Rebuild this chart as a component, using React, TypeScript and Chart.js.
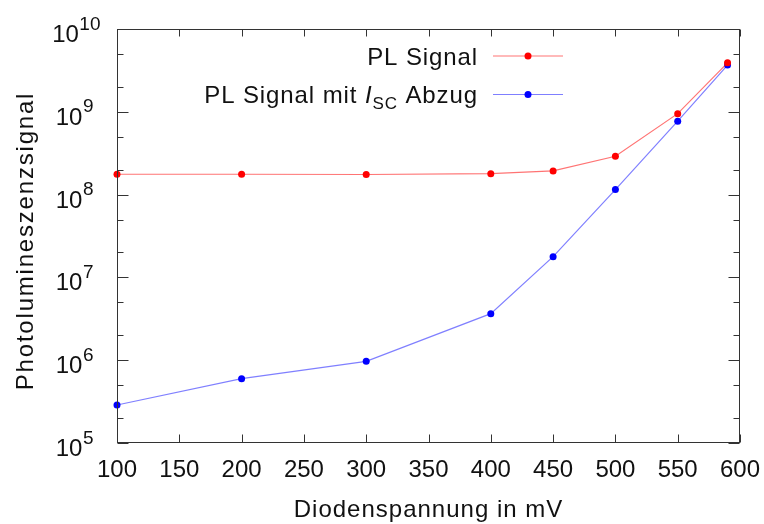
import React, { useEffect, useRef } from "react";
import { Chart, registerables } from "chart.js";

Chart.register(...registerables);

// Diode voltage in mV
const voltages = [100, 200, 300, 400, 450, 500, 550, 590];
// Photoluminescence signal (raw)
const plSignal = [1.76e8, 1.76e8, 1.75e8, 1.79e8, 1.93e8, 2.9e8, 9.5e8, 3.9e9];
// Photoluminescence signal with short-circuit current subtracted
const plSignalIsc = [2.88e5, 5.98e5, 9.7e5, 3.65e6, 1.78e7, 1.15e8, 7.7e8, 3.67e9];

const xTicks = [100, 150, 200, 250, 300, 350, 400, 450, 500, 550, 600];
const yExponents = [5, 6, 7, 8, 9, 10];
const minorMultipliers = [2, 5];

const xTitle = "Diodenspannung in mV";
const yTitle = "Photolumineszenzsignal";
const legendMain = "PL Signal";
const legendSubA = "PL Signal mit ";
const legendSubI = "I";
const legendSubIdx = "SC";
const legendSubB = " Abzug";

const FONT = "'Liberation Sans', Arial, sans-serif";
const TEXT = "#111";
const AXIS = "#333";

const RED_LINE = "rgba(255,0,0,0.55)";
const BLUE_LINE = "rgba(0,0,255,0.5)";

const decorations = {
  id: "decorations",
  afterDraw(chart: any) {
    const ctx: CanvasRenderingContext2D = chart.ctx;
    const { left, right, top, bottom } = chart.chartArea;
    const xs = chart.scales.x;
    const ys = chart.scales.y;
    const L = Math.round(left) + 0.5;
    const R = Math.round(right) - 0.5;
    const T = Math.round(top) + 0.5;
    const B = Math.round(bottom) - 0.5;

    ctx.save();
    // frame
    ctx.strokeStyle = AXIS;
    ctx.lineWidth = 1;
    ctx.strokeRect(L, T, R - L, B - T);

    // x ticks (inward, mirrored on top)
    ctx.beginPath();
    for (const v of xTicks) {
      const px = Math.round(xs.getPixelForValue(v)) + 0.5;
      ctx.moveTo(px, B);
      ctx.lineTo(px, B - 8);
      ctx.moveTo(px, T);
      ctx.lineTo(px, T + 7);
    }
    // y ticks: majors at decades, minors at 2 and 5
    for (const e of yExponents) {
      const py = Math.round(ys.getPixelForValue(Math.pow(10, e))) + 0.5;
      ctx.moveTo(L, py);
      ctx.lineTo(L + 11, py);
      ctx.moveTo(R, py);
      ctx.lineTo(R - 11, py);
      if (e < 10) {
        for (const m of minorMultipliers) {
          const pm = Math.round(ys.getPixelForValue(m * Math.pow(10, e))) + 0.5;
          ctx.moveTo(L, pm);
          ctx.lineTo(L + 6, pm);
          ctx.moveTo(R, pm);
          ctx.lineTo(R - 6, pm);
        }
      }
    }
    ctx.stroke();

    // x tick labels
    ctx.fillStyle = TEXT;
    ctx.font = `24px ${FONT}`;
    ctx.textAlign = "center";
    ctx.textBaseline = "alphabetic";
    for (const v of xTicks) {
      ctx.fillText(String(v), xs.getPixelForValue(v), bottom + 34);
    }

    // y tick labels as 10^n
    for (const e of yExponents) {
      const py = ys.getPixelForValue(Math.pow(10, e));
      const exp = String(e);
      ctx.font = `19px ${FONT}`;
      const ew = ctx.measureText(exp).width;
      ctx.font = `24px ${FONT}`;
      const bw = ctx.measureText("10").width;
      const rightEdge = 93 + (exp.length - 1) * 7;
      const bx = rightEdge - ew - bw;
      ctx.textAlign = "left";
      ctx.fillText("10", bx, py + 13);
      ctx.font = `19px ${FONT}`;
      ctx.fillText(exp, bx + bw + 0.5, py + 0.5);
    }

    // x axis title
    ctx.font = `24px ${FONT}`;
    (ctx as any).letterSpacing = "1px";
    ctx.textAlign = "center";
    ctx.fillText(xTitle, (left + right) / 2, 517);

    // y axis title
    ctx.save();
    ctx.translate(33, 241);
    ctx.rotate(-Math.PI / 2);
    (ctx as any).letterSpacing = "1.8px";
    ctx.textAlign = "center";
    ctx.fillText(yTitle, 0, 0);
    ctx.restore();

    // legend
    (ctx as any).letterSpacing = "0.9px";
    const textRight = 477;
    ctx.textAlign = "right";
    ctx.font = `24px ${FONT}`;
    ctx.fillText(legendMain, textRight + 1, 65);

    // second entry: "PL Signal mit I_SC Abzug"
    ctx.textAlign = "left";
    ctx.font = `24px ${FONT}`;
    const wB = ctx.measureText(legendSubB).width;
    ctx.font = `17px ${FONT}`;
    const wIdx = ctx.measureText(legendSubIdx).width;
    ctx.font = `italic 24px ${FONT}`;
    const wI = ctx.measureText(legendSubI).width;
    ctx.font = `24px ${FONT}`;
    const wA = ctx.measureText(legendSubA).width;
    let x = textRight + 1 - (wA + wI + wIdx + wB);
    const yb = 103;
    ctx.fillText(legendSubA, x, yb);
    x += wA;
    ctx.font = `italic 24px ${FONT}`;
    ctx.fillText(legendSubI, x, yb);
    x += wI;
    ctx.font = `17px ${FONT}`;
    ctx.fillText(legendSubIdx, x, yb + 6);
    x += wIdx;
    ctx.font = `24px ${FONT}`;
    ctx.fillText(legendSubB, x, yb);

    const sampleX0 = 493;
    const sampleX1 = 563;
    const sampleMid = 528;
    const rows = [
      { y: 56, line: RED_LINE, point: "#ff0000" },
      { y: 94.5, line: BLUE_LINE, point: "#0000ff" },
    ];
    for (const r of rows) {
      ctx.strokeStyle = r.line;
      ctx.lineWidth = 1.2;
      ctx.beginPath();
      ctx.moveTo(sampleX0, r.y);
      ctx.lineTo(sampleX1, r.y);
      ctx.stroke();
      ctx.fillStyle = r.point;
      ctx.beginPath();
      ctx.arc(sampleMid, r.y, 3.5, 0, Math.PI * 2);
      ctx.fill();
    }
    ctx.restore();
  },
};

export default function App() {
  const canvasRef = useRef<HTMLCanvasElement | null>(null);

  useEffect(() => {
    const canvas = canvasRef.current;
    if (!canvas) return;
    const chart = new Chart(canvas, {
      type: "line",
      data: {
        datasets: [
          {
            label: legendMain,
            data: voltages.map((v, i) => ({ x: v, y: plSignal[i] })),
            borderColor: RED_LINE,
            borderWidth: 1.2,
            pointBackgroundColor: "#ff0000",
            pointBorderWidth: 0,
            pointRadius: 3.5,
            clip: false,
          } as any,
          {
            label: legendSubA + legendSubI + legendSubIdx + legendSubB,
            data: voltages.map((v, i) => ({ x: v, y: plSignalIsc[i] })),
            borderColor: BLUE_LINE,
            borderWidth: 1.2,
            pointBackgroundColor: "#0000ff",
            pointBorderWidth: 0,
            pointRadius: 3.5,
            clip: false,
          } as any,
        ],
      },
      options: {
        responsive: false,
        animation: false,
        devicePixelRatio: 1,
        layout: { padding: { left: 117, right: 24, top: 29, bottom: 81 } },
        plugins: {
          legend: { display: false },
          tooltip: { enabled: false },
        },
        scales: {
          x: { type: "linear", min: 100, max: 600, display: false },
          y: { type: "logarithmic", min: 1e5, max: 1e10, display: false },
        },
      },
      plugins: [decorations],
    });
    return () => chart.destroy();
  }, []);

  return (
    <div style={{ position: "fixed", left: 0, top: 0, width: 764, height: 524, background: "#fff" }}>
      <canvas ref={canvasRef} width={764} height={524} style={{ display: "block" }} />
    </div>
  );
}
